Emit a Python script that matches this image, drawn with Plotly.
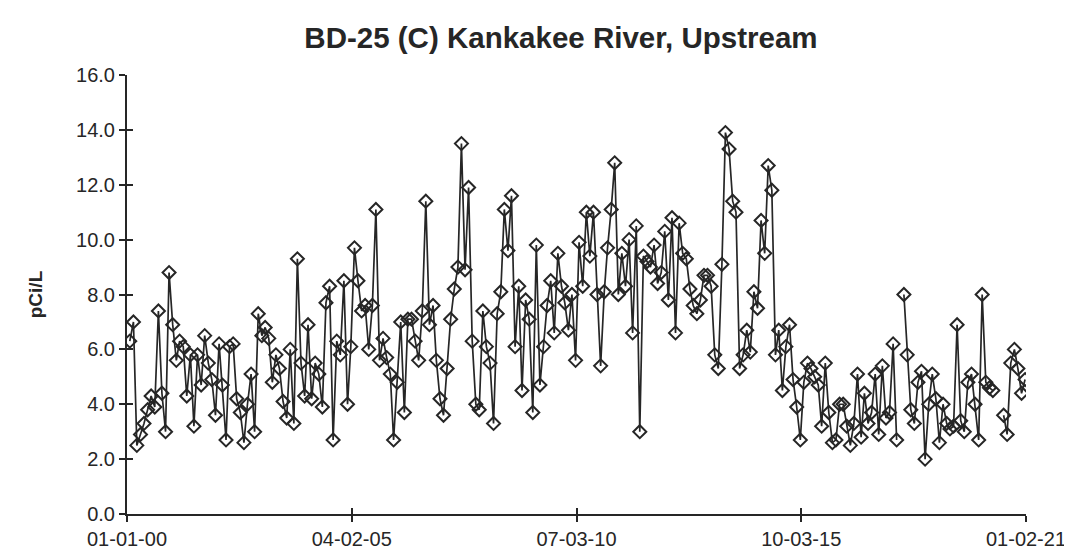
"""BD-25 (C) Kankakee River, Upstream - monthly gross beta (pCi/L), 2000-2020."""

import pandas as pd
import plotly.graph_objects as go

# monthly samples, Jan of first year through Dec of last year; None = no sample
conc_2000_2004 = [
    6.3, 7.0, 2.5, 2.9, 3.3, 3.8, 4.3, 3.9, 7.4, 4.4, 3.0, 8.8,
    6.9, 5.6, 6.3, 6.1, 4.3, 5.8, 3.2, 5.8, 4.7, 6.5, 5.5, 4.9,
    3.6, 6.2, 4.7, 2.7, 6.1, 6.2, 4.2, 3.7, 2.6, 4.0, 5.1, 3.0,
    7.3, 6.5, 6.8, 6.4, 4.8, 5.8, 5.3, 4.1, 3.5, 6.0, 3.3, 9.3,
    5.5, 4.3, 6.9, 4.2, 5.5, 5.1, 3.9, 7.7, 8.3, 2.7, 6.3, 5.8,
]
conc_2005_2009 = [
    8.5, 4.0, 6.1, 9.7, 8.5, 7.4, 7.6, 6.0, 7.6, 11.1, 5.6, 6.4,
    5.7, 5.1, 2.7, 4.8, 7.0, 3.7, 7.1, 7.1, 6.3, 5.6, 7.4, 11.4,
    6.9, 7.6, 5.6, 4.2, 3.6, 5.3, 7.1, 8.2, 9.0, 13.5, 8.9, 11.9,
    6.3, 4.0, 3.8, 7.4, 6.1, 5.5, 3.3, 7.3, 8.1, 11.1, 9.6, 11.6,
    6.1, 8.3, 4.5, 7.8, 7.1, 3.7, 9.8, 4.7, 6.1, 7.6, 8.5, 6.6,
]
conc_2010_2014 = [
    9.5, 8.3, 7.7, 6.7, 8.0, 5.6, 9.9, 8.3, 11.0, 9.4, 11.0, 8.0,
    5.4, 8.1, 9.7, 11.1, 12.8, 8.0, 9.5, 8.3, 10.0, 6.6, 10.5, 3.0,
    9.4, 9.2, 9.0, 9.8, 8.4, 8.8, 10.3, 7.8, 10.8, 6.6, 10.6, 9.5,
    9.3, 8.2, 7.6, 7.3, 7.8, 8.7, 8.7, 8.3, 5.8, 5.3, 9.1, 13.9,
    13.3, 11.4, 11.0, 5.3, 5.8, 6.7, 5.9, 8.1, 7.5, 10.7, 9.5, 12.7,
]
conc_2015_2020 = [
    11.8, 5.8, 6.7, 4.5, 6.1, 6.9, 4.9, 3.9, 2.7, 4.8, 5.5, 5.3,
    5.0, 4.7, 3.2, 5.5, 3.7, 2.6, 2.7, 4.0, 4.0, 3.2, 2.5, 3.3,
    5.1, 2.8, 4.4, 3.3, 3.7, 5.1, 2.9, 5.4, 3.5, 3.7, 6.2, 2.7,
    None, 8.0, 5.8, 3.8, 3.3, 4.8, 5.2, 2.0, 4.0, 5.1, 4.2, 2.6,
    4.0, 3.3, 3.1, 3.2, 6.9, 3.4, 3.0, 4.8, 5.1, 4.0, 2.7, 8.0,
    4.8, 4.6, 4.5, None, None, 3.6, 2.9, 5.5, 6.0, 5.3, 4.4, 4.9,
]

tick_dates = ["2000-01-01", "2005-04-02", "2010-07-03", "2015-10-03", "2021-01-02"]
tick_labels = ["01-01-00", "04-02-05", "07-03-10", "10-03-15", "01-02-21"]

values = conc_2000_2004 + conc_2005_2009 + conc_2010_2014 + conc_2015_2020
sample_dates = pd.date_range("2000-01-01", periods=len(values), freq="MS") + pd.Timedelta(days=24)

_INK = "#262626"
_FONT = "Arial, Liberation Sans, sans-serif"

fig = go.Figure()
fig.add_trace(
    go.Scatter(
        x=sample_dates,
        y=values,
        mode="lines+markers",
        connectgaps=False,
        line=dict(color=_INK, width=1.7),
        marker=dict(symbol="diamond-open", size=10, color=_INK, line=dict(color=_INK, width=2)),
        showlegend=False,
    )
)
# empty trace so the overlay axes (inner half of the cross ticks) get drawn
fig.add_trace(go.Scatter(x=[], y=[], xaxis="x2", yaxis="y2", showlegend=False, hoverinfo="skip"))

x_range = [tick_dates[0], tick_dates[-1]]
axis_common = dict(showgrid=False, zeroline=False, linecolor=_INK, linewidth=2,
                   tickcolor=_INK, tickwidth=2, ticklen=6, automargin=False)

# page body adds an 8px offset, so the figure is sized 8px short on each axis
fig.update_layout(
    width=1064,
    height=542,
    margin=dict(l=119, r=46, t=67, b=36),
    paper_bgcolor="white",
    plot_bgcolor="white",
    font=dict(family=_FONT, size=20, color=_INK),
    title=dict(
        text="<b>BD-25 (C) Kankakee River, Upstream</b>",
        font=dict(size=29.5, color=_INK),
        x=0.5197, xanchor="center", y=0.945, yanchor="middle",
    ),
    xaxis=dict(
        type="date", range=x_range, tickvals=tick_dates, ticktext=tick_labels,
        ticks="outside", showline=True, **axis_common,
    ),
    xaxis2=dict(
        type="date", range=x_range, tickvals=tick_dates, overlaying="x", anchor="y",
        ticks="inside", showticklabels=False, showline=False, **axis_common,
    ),
    yaxis=dict(
        range=[0, 16], dtick=2, tickformat=".1f", ticks="outside", showline=True,
        title=dict(text="<b>pCi/L</b>", font=dict(size=19), standoff=28),
        **axis_common,
    ),
    yaxis2=dict(
        range=[0, 16], dtick=2, overlaying="y", anchor="x", side="left",
        ticks="inside", showticklabels=False, showline=False, **axis_common,
    ),
)

fig.write_html("out.html")
